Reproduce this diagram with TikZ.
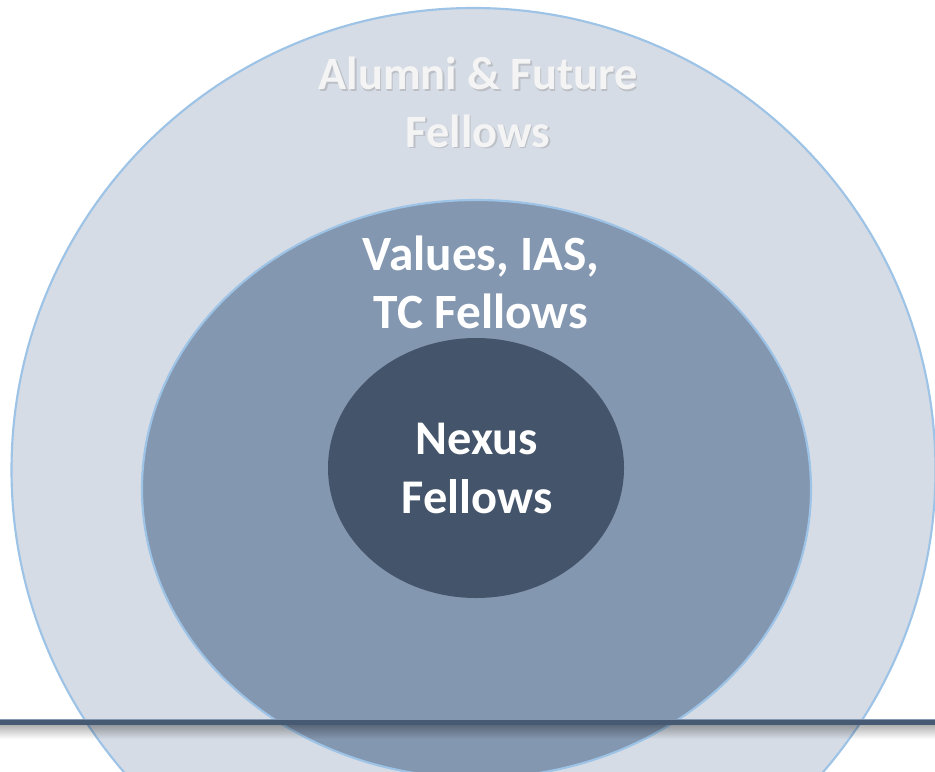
\documentclass[tikz,border=0pt]{standalone}
\usepackage{fontspec}
\setmainfont{Carlito}
\usepackage{xcolor}
\usepackage{tikz}
\definecolor{ringedge}{HTML}{9DC3E6}
\definecolor{outerfill}{HTML}{D6DCE5}
\definecolor{middlefill}{HTML}{8497B0}
\definecolor{innerfill}{HTML}{44546A}
\definecolor{barcolor}{HTML}{475A74}
\definecolor{alumnitext}{HTML}{F4F4F4}

\begin{document}
\begin{tikzpicture}[x=0.75pt,y=-0.75pt]
\useasboundingbox (0,0) rectangle (935,771);
\clip (0,0) rectangle (935,771);

\draw [ringedge, fill=outerfill, line width=1.6pt] (473.5,470) ellipse [x radius=462, y radius=462];
\draw [ringedge, fill=middlefill, line width=1.6pt] (476.5,489) ellipse [x radius=334.5, y radius=289];
\fill [innerfill] (476,468) ellipse [x radius=148, y radius=130];

\node [anchor=base, align=center, font=\bfseries\fontsize{34.8}{43}\selectfont, text=gray, opacity=0.3] (alumnishadow) at (479.5,148.5) {Alumni \& Future\\Fellows};
\node [anchor=base, align=center, font=\bfseries\fontsize{34.8}{43}\selectfont, text=alumnitext] (alumni) at (478,147) {Alumni \& Future\\Fellows};
\node [anchor=base, align=center, font=\bfseries\fontsize{37}{43.5}\selectfont, text=white] (values) at (481,328) {Values, IAS,\\TC Fellows};
\node [anchor=base, align=center, font=\bfseries\fontsize{36.3}{44}\selectfont, text=white] (nexus) at (477,513) {Nexus\\Fellows};

\foreach \k in {0,1,...,13}
  \fill [black, opacity={0.3*(1-\k/14)}] (0,725+\k) rectangle (935,726+\k);
\fill [barcolor] (0,719) rectangle (935,725);
\draw [middlefill, line width=0.75pt] (0,719.5) -- (935,719.5);
\end{tikzpicture}
\end{document}
